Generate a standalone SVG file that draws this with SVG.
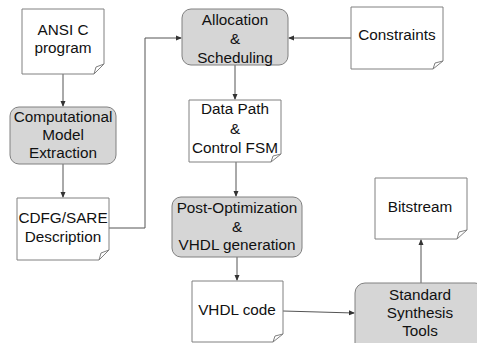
<svg xmlns="http://www.w3.org/2000/svg" width="477" height="343" viewBox="0 0 477 343">
<defs>
<style>
.doc{fill:#fff;stroke:#808080;stroke-width:1}
.fold{fill:none;stroke:#808080;stroke-width:1}
.proc{fill:#d6d6d6;stroke:#808080;stroke-width:1}
text{font-family:"Liberation Sans",Arial,sans-serif;font-size:15.3px;fill:#111;text-anchor:middle}
.c{fill:none;stroke:#555;stroke-width:1}
</style>
<marker id="ah" markerWidth="6" markerHeight="6" refX="5" refY="3" orient="auto" markerUnits="userSpaceOnUse">
<path d="M0,0.5 L6,3 L0,5.5 Z" fill="#333"/>
</marker>
</defs>
<rect width="477" height="343" fill="#fff"/>
<g id="connectors">
<line class="c" x1="63" y1="74" x2="63" y2="106" marker-end="url(#ah)"/>
<line class="c" x1="63" y1="164" x2="63" y2="197" marker-end="url(#ah)"/>
<polyline class="c" points="109,228 145,228 145,38 181,38" marker-end="url(#ah)"/>
<line class="c" x1="351" y1="38" x2="289" y2="38" marker-end="url(#ah)"/>
<line class="c" x1="235" y1="65" x2="235" y2="99" marker-end="url(#ah)"/>
<line class="c" x1="236" y1="162" x2="236" y2="196" marker-end="url(#ah)"/>
<line class="c" x1="237" y1="257" x2="237" y2="280" marker-end="url(#ah)"/>
<line class="c" x1="283" y1="311" x2="354" y2="313" marker-end="url(#ah)"/>
<line class="c" x1="421" y1="283" x2="421" y2="240" marker-end="url(#ah)"/>
</g>
<g id="ansi">
<path class="doc" d="M22,9 H104 V64 L94,74 H22 Z"/>
<path class="fold" d="M94,74 L96,67 L104,64"/>
<text x="63" y="35">ANSI C</text>
<text x="63" y="53">program</text>
</g>
<g id="cme">
<rect class="proc" x="10" y="107" width="106" height="57" rx="9"/>
<text x="63" y="122">Computational</text>
<text x="63" y="140">Model</text>
<text x="63" y="158">Extraction</text>
</g>
<g id="cdfg">
<path class="doc" d="M17,198 H109 V250 L99,260 H17 Z"/>
<path class="fold" d="M99,260 L101,253 L109,250"/>
<text x="63" y="223">CDFG/SARE</text>
<text x="63" y="242">Description</text>
</g>
<g id="alloc">
<rect class="proc" x="182" y="9" width="106" height="56" rx="9"/>
<text x="235" y="25">Allocation</text>
<text x="235" y="44">&amp;</text>
<text x="235" y="63">Scheduling</text>
</g>
<g id="constraints">
<path class="doc" d="M351,7 H443 V61 L433,69 H351 Z"/>
<path class="fold" d="M433,69 L435,63 L443,61"/>
<text x="397" y="40">Constraints</text>
</g>
<g id="datapath">
<path class="doc" d="M189,100 H281 V154 L271,162 H189 Z"/>
<path class="fold" d="M271,162 L273,156 L281,154"/>
<text x="235" y="114">Data Path</text>
<text x="235" y="134">&amp;</text>
<text x="235" y="153">Control FSM</text>
</g>
<g id="postopt">
<rect class="proc" x="172" y="197" width="130" height="60" rx="9"/>
<text x="237" y="213">Post-Optimization</text>
<text x="237" y="232">&amp;</text>
<text x="237" y="250">VHDL generation</text>
</g>
<g id="vhdl">
<path class="doc" d="M192,281 H283 V334 L273,342 H192 Z"/>
<path class="fold" d="M273,342 L275,336 L283,334"/>
<text x="237" y="315">VHDL code</text>
</g>
<g id="synth">
<rect class="proc" x="355" y="283" width="130" height="70" rx="10"/>
<text x="420" y="300">Standard</text>
<text x="420" y="318">Synthesis</text>
<text x="420" y="336">Tools</text>
</g>
<g id="bitstream">
<path class="doc" d="M375,178 H467 V230 L457,239 H375 Z"/>
<path class="fold" d="M457,239 L459,232 L467,230"/>
<text x="420" y="212">Bitstream</text>
</g>
</svg>
